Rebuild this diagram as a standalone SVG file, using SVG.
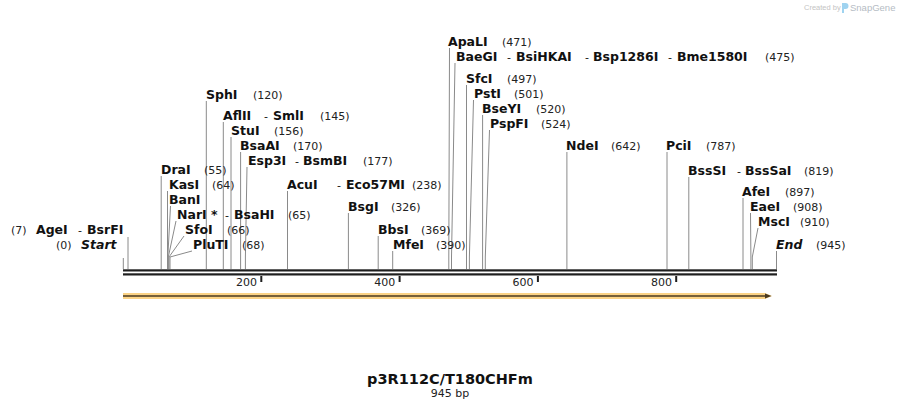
<svg xmlns="http://www.w3.org/2000/svg" width="900" height="408" viewBox="0 0 900 408">
<style>
text{font-family:"DejaVu Sans","Liberation Sans",sans-serif;fill:#111}
.n{font-size:12.5px;font-weight:bold}
.p{font-size:11px;font-weight:normal;fill:#222}
.s{font-size:11px;font-weight:normal}
.it{font-style:italic}
.cut{fill:none;stroke:#8a8a8a;stroke-width:1}
.tk{font-size:11px;fill:#222}
</style>
<rect width="900" height="408" fill="#fff"/>
<g id="logo">
<text x="804" y="10" style="font-family:'Liberation Sans',sans-serif;font-size:7.5px;fill:#c4c4c4">Created by</text>
<path d="M842,3 h3.5 a3,3 0 0 1 0,6 h-1.5 v4 h-2 z" fill="#9fd3f0"/>
<text x="850" y="11" style="font-family:'Liberation Sans',sans-serif;font-size:9.5px;fill:#b5bcc4">SnapGene</text>
</g>
<g id="connectors">
<path class="cut" d="M123.3,258V269"/>
<path class="cut" d="M128,237V269"/>
<path class="cut" d="M161.2,176V269"/>
<path class="cut" d="M167.5,191V269"/>
<path class="cut" d="M170.5,206L167.8,257V269"/>
<path class="cut" d="M176,221L168.3,257V269"/>
<path class="cut" d="M184,236L169,257V269"/>
<path class="cut" d="M192,251L170,257V269"/>
<path class="cut" d="M206.3,101V269"/>
<path class="cut" d="M223.3,122V269"/>
<path class="cut" d="M231,137V269"/>
<path class="cut" d="M240.6,152V269"/>
<path class="cut" d="M247,167L245.4,257V269"/>
<path class="cut" d="M287.5,191V269"/>
<path class="cut" d="M348.4,213V269"/>
<path class="cut" d="M378.2,236V269"/>
<path class="cut" d="M392.7,251V269"/>
<path class="cut" d="M449.5,48L448.8,257V269"/>
<path class="cut" d="M455,63L451.5,257V269"/>
<path class="cut" d="M466.5,85V269"/>
<path class="cut" d="M473.5,100L469.4,257V269"/>
<path class="cut" d="M482.6,115V269"/>
<path class="cut" d="M489.5,130L485.3,257V269"/>
<path class="cut" d="M566.9,152V269"/>
<path class="cut" d="M667,152V269"/>
<path class="cut" d="M688.8,177V269"/>
<path class="cut" d="M743,198V269"/>
<path class="cut" d="M750.5,213L750.9,257V269"/>
<path class="cut" d="M758,228L752.3,257V269"/>
<path class="cut" d="M776.5,251V269"/>
</g>
<g id="sequence">
<rect x="123" y="269.3" width="654" height="2.2" fill="#1e1e1e"/>
<rect x="123" y="273.3" width="654" height="2.2" fill="#1e1e1e"/>
<g fill="#1e1e1e">
<rect x="260.3" y="276" width="2" height="6"/>
<rect x="398.6" y="276" width="2" height="6"/>
<rect x="536.9" y="276" width="2" height="6"/>
<rect x="675.2" y="276" width="2" height="6"/>
</g>
<text class="tk" x="257" y="285.5" text-anchor="end">200</text>
<text class="tk" x="395.3" y="285.5" text-anchor="end">400</text>
<text class="tk" x="533.6" y="285.5" text-anchor="end">600</text>
<text class="tk" x="671.9" y="285.5" text-anchor="end">800</text>
</g>
<g id="feature">
<polygon points="123,293 765,293 772,296 765,299 123,299" fill="#fbd386"/>
<line x1="123" y1="296" x2="766" y2="296" stroke="#4a3a20" stroke-width="1.4"/>
<polygon points="765,293.5 771.5,296 765,298.5" fill="#4a3a20"/>
</g>
<g id="start"><text x="56" y="249" class="p">(0)</text><text x="81" y="249" class="n it">Start</text></g>
<g id="AgeI"><text x="11" y="234" class="p">(7)</text><text x="36" y="234" class="n">AgeI</text><text x="78" y="234" class="s">-</text><text x="87" y="234" class="n">BsrFI</text></g>
<g id="DraI"><text x="161" y="174" class="n">DraI</text><text x="204" y="174" class="p">(55)</text></g>
<g id="KasI"><text x="169" y="189" class="n">KasI</text><text x="212" y="189" class="p">(64)</text></g>
<g id="BanI"><text x="169" y="204" class="n">BanI</text></g>
<g id="NarI"><text x="177" y="219" class="n">NarI</text><text x="211" y="219" class="n">*</text><text x="225" y="219" class="s">-</text><text x="234" y="219" class="n">BsaHI</text><text x="288" y="219" class="p">(65)</text></g>
<g id="SfoI"><text x="185" y="234" class="n">SfoI</text><text x="227" y="234" class="p">(66)</text></g>
<g id="PluTI"><text x="193" y="249" class="n">PluTI</text><text x="242" y="249" class="p">(68)</text></g>
<g id="SphI"><text x="206" y="99" class="n">SphI</text><text x="253" y="99" class="p">(120)</text></g>
<g id="AflII"><text x="223" y="120" class="n">AflII</text><text x="264" y="120" class="s">-</text><text x="273" y="120" class="n">SmlI</text><text x="320" y="120" class="p">(145)</text></g>
<g id="StuI"><text x="231" y="135" class="n">StuI</text><text x="274" y="135" class="p">(156)</text></g>
<g id="BsaAI"><text x="240" y="150" class="n">BsaAI</text><text x="293" y="150" class="p">(170)</text></g>
<g id="Esp3I"><text x="248" y="165" class="n">Esp3I</text><text x="295" y="165" class="s">-</text><text x="303" y="165" class="n">BsmBI</text><text x="363" y="165" class="p">(177)</text></g>
<g id="AcuI"><text x="287" y="189" class="n">AcuI</text><text x="337" y="189" class="s">-</text><text x="346" y="189" class="n">Eco57MI</text><text x="412" y="189" class="p">(238)</text></g>
<g id="BsgI"><text x="348" y="211" class="n">BsgI</text><text x="391" y="211" class="p">(326)</text></g>
<g id="BbsI"><text x="378" y="234" class="n">BbsI</text><text x="421" y="234" class="p">(369)</text></g>
<g id="MfeI"><text x="393" y="249" class="n">MfeI</text><text x="436" y="249" class="p">(390)</text></g>
<g id="ApaLI"><text x="448" y="46" class="n">ApaLI</text><text x="502" y="46" class="p">(471)</text></g>
<g id="BaeGI"><text x="456" y="61" class="n">BaeGI</text><text x="507" y="61" class="s">-</text><text x="516" y="61" class="n">BsiHKAI</text><text x="585" y="61" class="s">-</text><text x="593" y="61" class="n">Bsp1286I</text><text x="668" y="61" class="s">-</text><text x="677" y="61" class="n">Bme1580I</text><text x="765" y="61" class="p">(475)</text></g>
<g id="SfcI"><text x="466" y="83" class="n">SfcI</text><text x="507" y="83" class="p">(497)</text></g>
<g id="PstI"><text x="474" y="98" class="n">PstI</text><text x="514" y="98" class="p">(501)</text></g>
<g id="BseYI"><text x="482" y="113" class="n">BseYI</text><text x="536" y="113" class="p">(520)</text></g>
<g id="PspFI"><text x="490" y="128" class="n">PspFI</text><text x="541" y="128" class="p">(524)</text></g>
<g id="NdeI"><text x="566" y="150" class="n">NdeI</text><text x="611" y="150" class="p">(642)</text></g>
<g id="PciI"><text x="666" y="150" class="n">PciI</text><text x="706" y="150" class="p">(787)</text></g>
<g id="BssSI"><text x="688" y="175" class="n">BssSI</text><text x="737" y="175" class="s">-</text><text x="745" y="175" class="n">BssSaI</text><text x="804" y="175" class="p">(819)</text></g>
<g id="AfeI"><text x="742" y="196" class="n">AfeI</text><text x="785" y="196" class="p">(897)</text></g>
<g id="EaeI"><text x="750" y="211" class="n">EaeI</text><text x="793" y="211" class="p">(908)</text></g>
<g id="MscI"><text x="758" y="226" class="n">MscI</text><text x="800" y="226" class="p">(910)</text></g>
<g id="end"><text x="776" y="249" class="n it">End</text><text x="816" y="249" class="p">(945)</text></g>
<g id="title">
<text x="450" y="384" text-anchor="middle" style="font-size:14.5px;font-weight:bold">p3R112C/T180CHFm</text>
<text x="450" y="397" text-anchor="middle" style="font-size:11px;fill:#222">945 bp</text>
</g>
</svg>
